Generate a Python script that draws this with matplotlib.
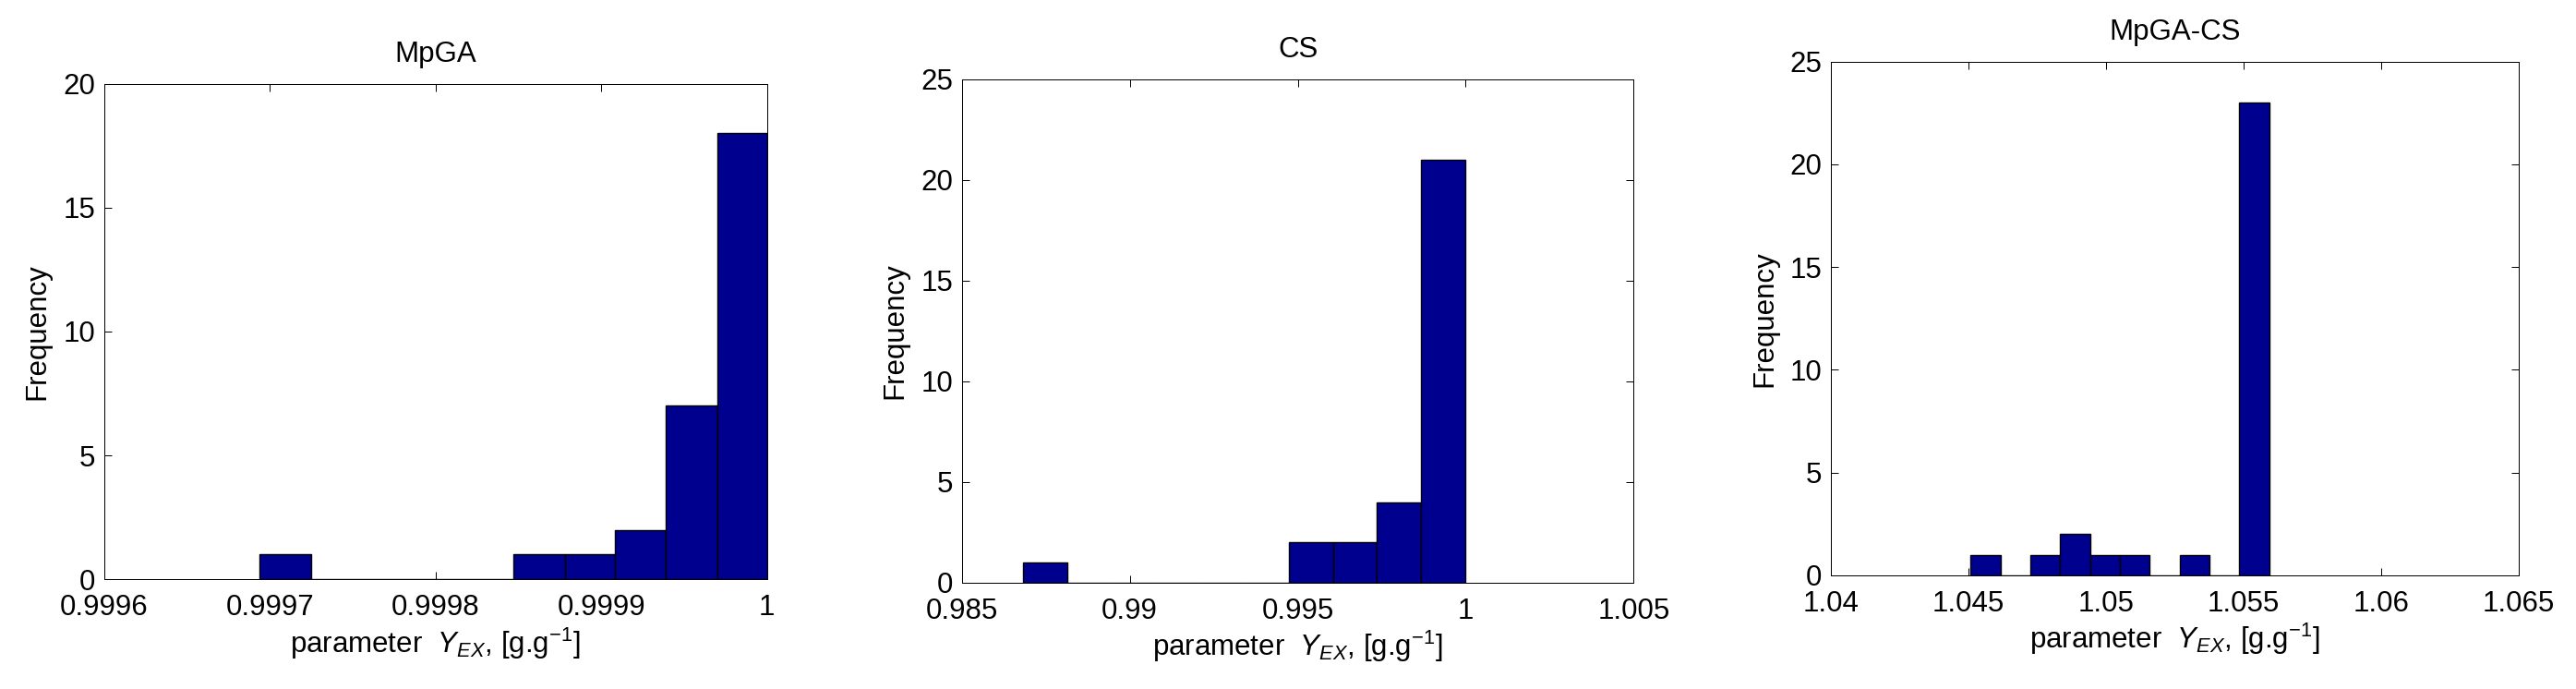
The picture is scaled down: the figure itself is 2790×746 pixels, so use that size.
import numpy as np
import matplotlib
matplotlib.use("Agg")
import matplotlib.pyplot as plt
from matplotlib.ticker import FuncFormatter

plt.rcParams['font.family'] = ['Liberation Sans', 'DejaVu Sans']
plt.rcParams['mathtext.fontset'] = 'custom'
plt.rcParams['mathtext.rm'] = 'Liberation Sans'
plt.rcParams['mathtext.it'] = 'Liberation Sans:italic'
plt.rcParams['mathtext.bf'] = 'Liberation Sans:bold'

# ---- data (histogram bin edges and counts) ----
titles = ["MpGA", "CS", "MpGA-CS"]

mpga_edges = [0.999694, 0.999725, 0.999755, 0.999786, 0.999817, 0.999847,
              0.999878, 0.999908, 0.999939, 0.999970, 1.000000]
mpga_counts = [1, 0, 0, 0, 0, 1, 1, 2, 7, 18]

cs_edges = [0.98682, 0.98814, 0.98946, 0.99077, 0.99209, 0.99341,
            0.99473, 0.99605, 0.99736, 0.99868, 1.00000]
cs_counts = [1, 0, 0, 0, 0, 0, 2, 2, 4, 21]

mpgacs_edges = [1.045068, 1.046154, 1.047240, 1.048326, 1.049413, 1.050499,
                1.051585, 1.052671, 1.053757, 1.054843, 1.055929]
mpgacs_counts = [1, 0, 1, 2, 1, 1, 0, 1, 0, 23]

mpga_xticks = [0.9996, 0.9997, 0.9998, 0.9999, 1.0]
cs_xticks = [0.985, 0.99, 0.995, 1.0, 1.005]
mpgacs_xticks = [1.04, 1.045, 1.05, 1.055, 1.06, 1.065]

mpga_yticks = [0, 5, 10, 15, 20]
cs_yticks = [0, 5, 10, 15, 20, 25]
mpgacs_yticks = [0, 5, 10, 15, 20, 25]

xlabel_text = r'parameter  $Y_{EX}$, [g.g$^{-1}$]'
ylabel_text = 'Frequency'

panels = [
    (mpga_edges, mpga_counts, mpga_xticks, mpga_yticks),
    (cs_edges, cs_counts, cs_xticks, cs_yticks),
    (mpgacs_edges, mpgacs_counts, mpgacs_xticks, mpgacs_yticks),
]

# axes rectangles in pixels: left, top, right, bottom
W, H = 2790, 746
rects_px = [
    (112.7, 90.7, 830.7, 627.3),
    (1041.7, 85.7, 1769.3, 631.0),
    (1983.3, 66.7, 2727.7, 623.0),
]

BAR = '#00008F'
FS = 22.5

fig = plt.figure(figsize=(W / 100, H / 100), dpi=100)
fmt = FuncFormatter(lambda v, p: '%g' % v)

for (edges, counts, xt, yt), title, (l, t, r, b) in zip(panels, titles, rects_px):
    ax = fig.add_axes([l / W, 1 - b / H, (r - l) / W, (b - t) / H])
    edges = np.asarray(edges)
    ax.bar(edges[:-1], counts, width=np.diff(edges), align='edge',
           color=BAR, edgecolor='black', linewidth=1.0, zorder=2)
    ax.set_xlim(xt[0], xt[-1])
    ax.set_ylim(yt[0], yt[-1])
    ax.set_xticks(xt)
    ax.set_yticks(yt)
    ax.xaxis.set_major_formatter(fmt)
    ax.yaxis.set_major_formatter(fmt)
    ax.tick_params(axis='both', direction='in', length=5.5, width=0.72,
                   top=True, right=True, labelsize=FS)
    ax.tick_params(axis='x', pad=11.5)
    ax.tick_params(axis='y', pad=7)
    for s in ax.spines.values():
        s.set_linewidth(0.72)
    ax.set_title(title, fontsize=FS, pad=17)
    ax.set_xlabel(xlabel_text, fontsize=FS, labelpad=3)
    ax.set_ylabel(ylabel_text, fontsize=FS, labelpad=9)

fig.savefig('out.png', dpi=100, facecolor='white')
